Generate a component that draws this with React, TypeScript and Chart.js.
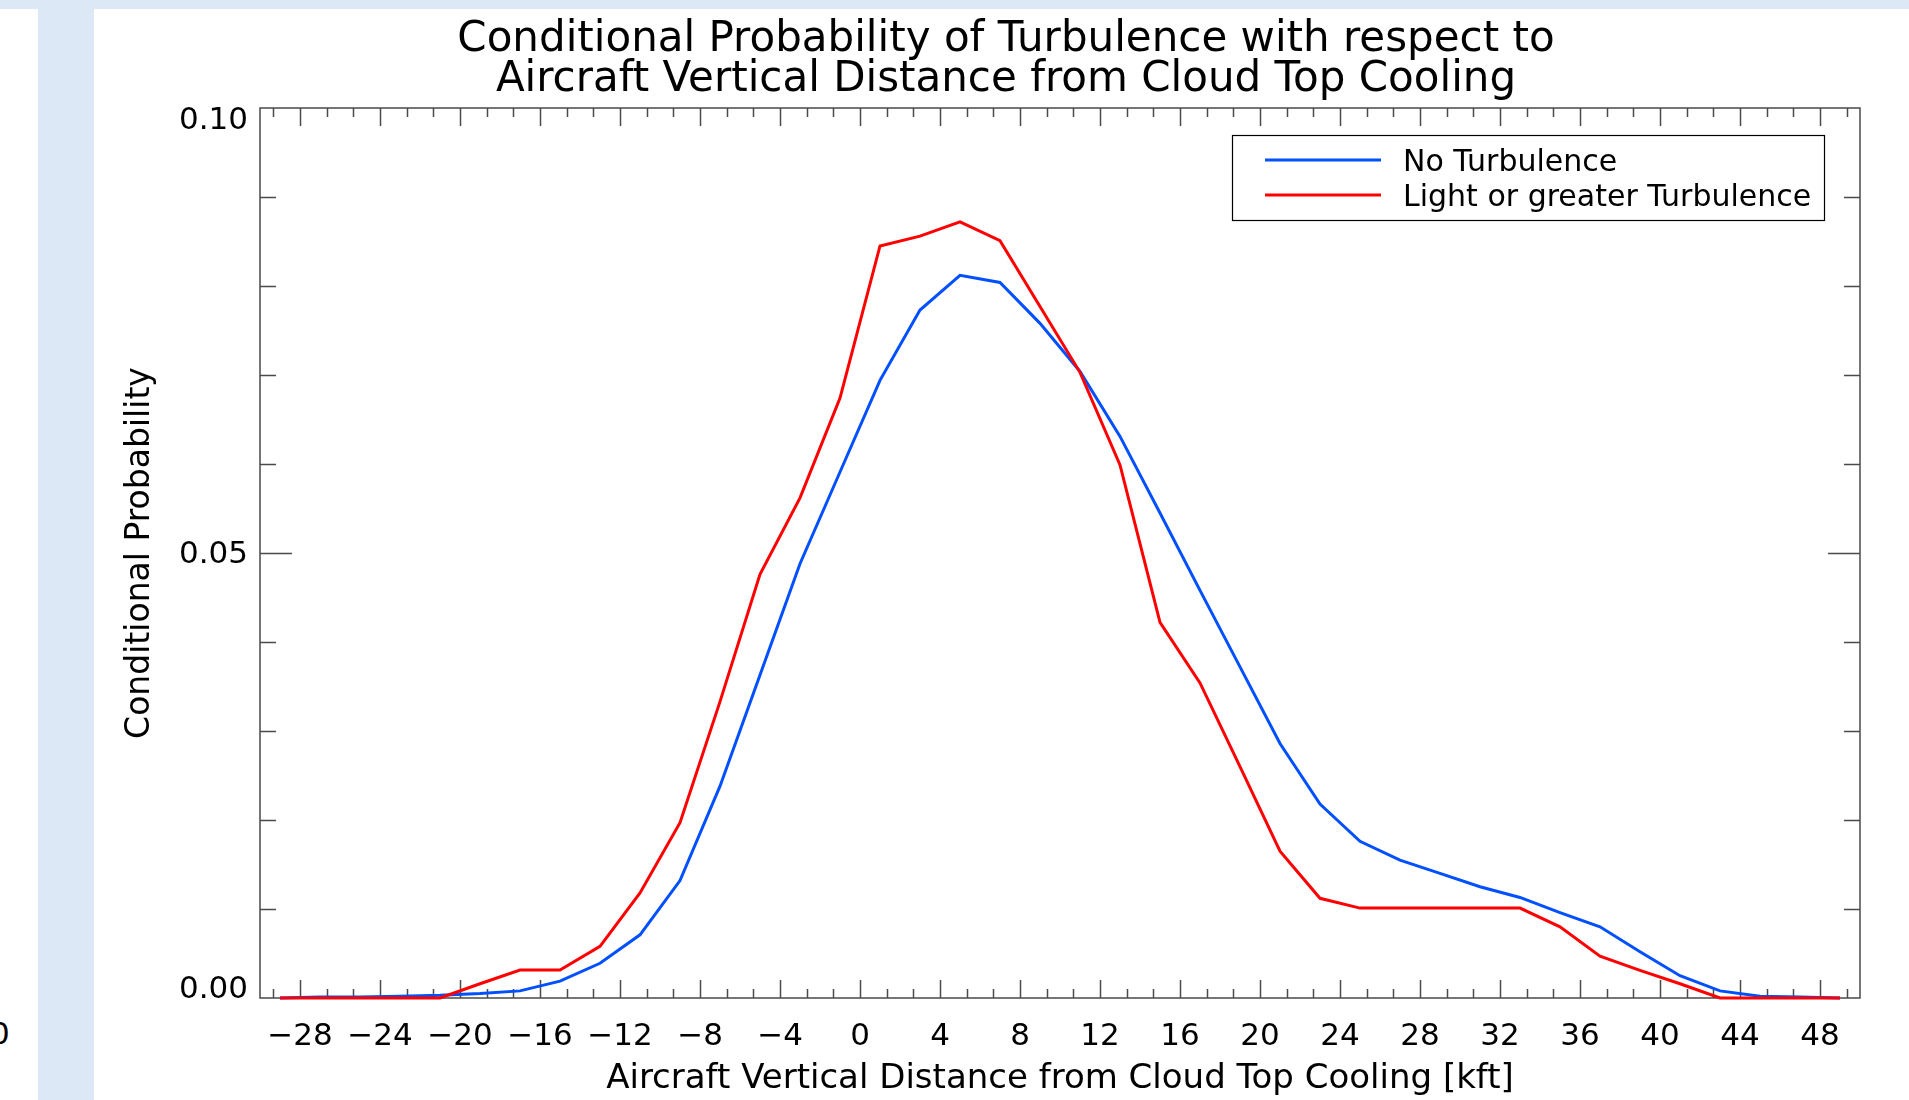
import React, { useEffect, useRef } from "react";
import { Chart, registerables } from "chart.js";

Chart.register(...registerables);

// ---- data ----
const distanceKft = [
  -29, -27, -25, -23, -21, -19, -17, -15, -13, -11, -9, -7, -5, -3, -1, 1, 3, 5, 7, 9,
  11, 13, 15, 17, 19, 21, 23, 25, 27, 29, 31, 33, 35, 37, 39, 41, 43, 45, 47, 49,
];
const noTurbulence = [
  0.0, 0.0001, 0.0001, 0.0002, 0.0003, 0.0005, 0.0008, 0.0019, 0.0039, 0.0071,
  0.0132, 0.0238, 0.0363, 0.0488, 0.0591, 0.0694, 0.0773, 0.0812, 0.0804, 0.0758,
  0.0704, 0.0631, 0.0545, 0.0458, 0.0372, 0.0286, 0.0218, 0.0176, 0.0155, 0.014,
  0.0125, 0.0113, 0.0096, 0.008, 0.0052, 0.0025, 0.0008, 0.0002, 0.0001, 0.0,
];
const lightOrGreater = [
  0.0, 0.0, 0.0, 0.0, 0.0, 0.0016, 0.00315, 0.00315, 0.0058, 0.0118,
  0.0197, 0.0333, 0.0476, 0.0562, 0.0674, 0.0845, 0.0856, 0.0872, 0.0851, 0.0777,
  0.0703, 0.0599, 0.0422, 0.0354, 0.026, 0.0165, 0.0112, 0.0101, 0.0101, 0.0101,
  0.0101, 0.0101, 0.008, 0.0047, 0.0031, 0.0016, 0.0, 0.0, 0.0, 0.0,
];
const seriesLabels = ["No Turbulence", "Light or greater Turbulence"];
const seriesColors = ["#0050ff", "#ff0000"];
const xTickValues = [-28, -24, -20, -16, -12, -8, -4, 0, 4, 8, 12, 16, 20, 24, 28, 32, 36, 40, 44, 48];
const yTickValues = [0.0, 0.05, 0.1];
const titleLines = [
  "Conditional Probability of Turbulence with respect to",
  "Aircraft Vertical Distance from Cloud Top Cooling",
];
const xAxisTitle = "Aircraft Vertical Distance from Cloud Top Cooling [kft]";
const yAxisTitle = "Conditional Probability";

const FONT = "'DejaVu Sans', sans-serif";
const AXIS_COLOR = "#4a4a4a";

const fmtX = (v: number) => (v < 0 ? "\u2212" + Math.abs(v) : String(v));

const framePlugin = {
  id: "idlFrame",
  beforeDatasetsDraw(chart: any) {
    const { ctx, chartArea: a, scales } = chart;
    const x = scales.x;
    const y = scales.y;
    ctx.save();
    ctx.strokeStyle = AXIS_COLOR;
    ctx.lineWidth = 1.5;
    ctx.strokeRect(a.left, a.top, a.right - a.left, a.bottom - a.top);
    ctx.beginPath();
    // x major ticks (bottom + top, inward)
    for (const v of xTickValues) {
      const px = Math.round(x.getPixelForValue(v)) + 0.5;
      ctx.moveTo(px, a.bottom);
      ctx.lineTo(px, a.bottom - 18);
      ctx.moveTo(px, a.top);
      ctx.lineTo(px, a.top + 18);
    }
    // x minor ticks: three sub-intervals per major interval
    const step = (xTickValues[1] - xTickValues[0]) / 3;
    for (let j = -3; j < xTickValues.length * 3 + 3; j++) {
      if (j % 3 === 0) continue;
      const v = xTickValues[0] + j * step;
      if (v <= x.min || v >= x.max) continue;
      const px = Math.round(x.getPixelForValue(v)) + 0.5;
      ctx.moveTo(px, a.bottom);
      ctx.lineTo(px, a.bottom - 9);
      ctx.moveTo(px, a.top);
      ctx.lineTo(px, a.top + 9);
    }
    // y ticks (left + right, inward)
    for (let i = 1; i < 10; i++) {
      const v = i * 0.01;
      const len = i % 5 === 0 ? 32 : 16;
      const py = Math.round(y.getPixelForValue(v)) + 0.5;
      ctx.moveTo(a.left, py);
      ctx.lineTo(a.left + len, py);
      ctx.moveTo(a.right, py);
      ctx.lineTo(a.right - len, py);
    }
    ctx.stroke();
    ctx.restore();
  },
  afterDraw(chart: any) {
    const { ctx, chartArea: a, scales } = chart;
    const y = scales.y;
    ctx.save();
    // y tick labels (end labels nudged inward, as in the original plot)
    ctx.fillStyle = "#000";
    ctx.font = `31px ${FONT}`;
    ctx.textAlign = "right";
    ctx.textBaseline = "middle";
    for (const v of yTickValues) {
      const py = y.getPixelForValue(v);
      const shift = v === y.max ? 11 : v === y.min ? -10 : 0;
      ctx.fillText(v.toFixed(2), a.left - 12, py + shift + 2);
    }
    // title
    ctx.font = `42px ${FONT}`;
    ctx.textAlign = "center";
    ctx.textBaseline = "alphabetic";
    titleLines.forEach((t, i) => ctx.fillText(t, 1006, 51 + i * 40));
    // legend box
    ctx.fillStyle = "#fff";
    ctx.fillRect(1232, 135, 592, 85);
    ctx.strokeStyle = "#000";
    ctx.lineWidth = 1.2;
    ctx.strokeRect(1232.5, 135.5, 592, 85);
    ctx.font = `30px ${FONT}`;
    ctx.textAlign = "left";
    chart.data.datasets.forEach((ds: any, i: number) => {
      const ly = 160 + i * 35;
      ctx.strokeStyle = ds.borderColor;
      ctx.lineWidth = 3;
      ctx.beginPath();
      ctx.moveTo(1265, ly);
      ctx.lineTo(1381, ly);
      ctx.stroke();
      ctx.fillStyle = "#000";
      ctx.fillText(ds.label, 1403, ly + 10.5);
    });
    ctx.restore();
  },
};

export default function App() {
  const canvasRef = useRef<HTMLCanvasElement | null>(null);

  useEffect(() => {
    if (!canvasRef.current) return;
    const mk = (vals: number[]) => distanceKft.map((x, i) => ({ x, y: vals[i] }));
    const chart = new Chart(canvasRef.current, {
      type: "line",
      data: {
        datasets: [
          {
            label: seriesLabels[0],
            data: mk(noTurbulence),
            borderColor: seriesColors[0],
            borderWidth: 3,
            pointRadius: 0,
            tension: 0,
            fill: false,
            order: 1,
            clip: false as any,
          },
          {
            label: seriesLabels[1],
            data: mk(lightOrGreater),
            borderColor: seriesColors[1],
            borderWidth: 3,
            pointRadius: 0,
            tension: 0,
            fill: false,
            order: 0,
            clip: false as any,
          },
        ],
      },
      options: {
        animation: false,
        responsive: true,
        maintainAspectRatio: false,
        layout: { padding: { top: 108, right: 49, left: 0, bottom: 0 } },
        plugins: {
          legend: { display: false },
          title: { display: false },
          tooltip: { enabled: false },
        },
        scales: {
          x: {
            type: "linear",
            min: -30,
            max: 50,
            afterBuildTicks: (s: any) => {
              s.ticks = xTickValues.map((v) => ({ value: v }));
            },
            afterFit: (s: any) => {
              s.height = 102;
            },
            grid: { display: false, drawTicks: false },
            border: { display: false },
            ticks: {
              color: "#000",
              font: { family: FONT, size: 31 },
              padding: 20,
              maxRotation: 0,
              autoSkip: false,
              callback: (v: any) => fmtX(Number(v)),
            },
            title: {
              display: true,
              text: xAxisTitle,
              color: "#000",
              font: { family: FONT, size: 34 },
              padding: { top: 0, bottom: 0 },
            },
          },
          y: {
            type: "linear",
            min: 0,
            max: 0.1,
            afterBuildTicks: (s: any) => {
              s.ticks = yTickValues.map((v) => ({ value: v }));
            },
            afterFit: (s: any) => {
              s.width = 260;
            },
            grid: { display: false, drawTicks: false },
            border: { display: false },
            ticks: { display: false },
            title: {
              display: true,
              text: yAxisTitle,
              color: "#000",
              font: { family: FONT, size: 33 },
              padding: { top: 121, bottom: 0 },
            },
          },
        },
      },
      plugins: [framePlugin],
    });
    return () => chart.destroy();
  }, []);

  return (
    <div style={{ position: "fixed", left: 0, top: 0, width: 1909, height: 1100, background: "#fff", overflow: "hidden" }}>
      <div style={{ position: "absolute", left: 0, top: 0, width: 1909, height: 9, background: "#dce8f6" }} />
      <div style={{ position: "absolute", left: 38, top: 9, width: 56, height: 1091, background: "#dce8f6" }} />
      <div
        style={{
          position: "absolute",
          left: -10,
          top: 1018,
          fontFamily: FONT,
          fontSize: 31,
          lineHeight: "31px",
          color: "#000",
        }}
      >
        0
      </div>
      <div style={{ position: "absolute", left: 0, top: 0, width: 1909, height: 1100 }}>
        <canvas ref={canvasRef} />
      </div>
    </div>
  );
}
